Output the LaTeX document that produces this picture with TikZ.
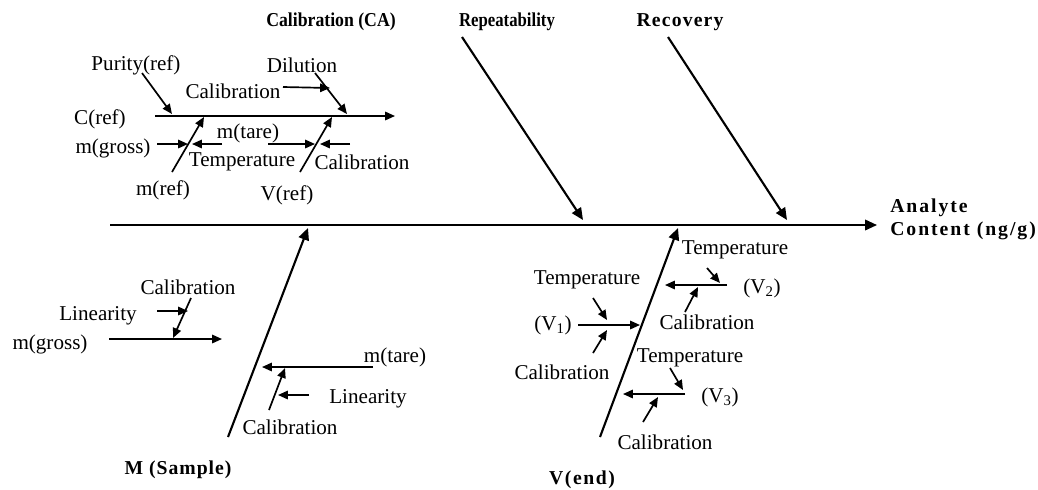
\documentclass[tikz,border=0pt]{standalone}
\usepackage{fontspec}
\usepackage{graphicx}
\setmainfont{Liberation Serif}
\usetikzlibrary{arrows.meta}
\tikzset{
  bone/.style={line width=1.5pt,-{Triangle[length=8.5pt,width=7.5pt]}},
  twig/.style={line width=1.2pt,-{Triangle[length=7pt,width=6pt]}},
  lbl/.style={font=\fontsize{15}{18}\selectfont,inner sep=0pt},
  head/.style={font=\fontsize{14}{16}\selectfont\bfseries,inner sep=0pt},
}
\begin{document}
\begin{tikzpicture}[x=0.025cm,y=-0.025cm]
	\useasboundingbox (0,0) rectangle (1038,489);
	% spine and result
	\coordinate (sp0) at (110,225);
	\coordinate (sp1) at (877,225);
	\draw[bone,line width=1.3pt] (sp0) -- (sp1);
	\node[head,align=left,anchor=west,font=\fontsize{14}{16.5}\selectfont\bfseries\addfontfeatures{LetterSpace=10}] (result) at (890,219) {Analyte\\Content (ng/g)};
	% main causes
	\node[head] (ca) at (331,22) {\scalebox{0.9}[1]{Calibration (CA)}};
	\node[head] (rep) at (507,22) {\scalebox{0.85}[1]{Repeatability}};
	\node[head,font=\fontsize{14}{16}\selectfont\bfseries\addfontfeatures{LetterSpace=6}] (rec) at (680,22) {Recovery};
	\node[head,font=\fontsize{14}{16}\selectfont\bfseries\addfontfeatures{LetterSpace=5}] (msamp) at (178,470) {M (Sample)};
	\node[head,font=\fontsize{14}{16}\selectfont\bfseries\addfontfeatures{LetterSpace=8}] (vend) at (582,480) {V(end)};
	\coordinate (rep0) at (462,37);  \coordinate (rep1) at (583,220);
	\coordinate (rec0) at (668,37);  \coordinate (rec1) at (787,220);
	\coordinate (ms0) at (228,437);  \coordinate (ms1) at (308,228);
	\coordinate (ve0) at (600,437);  \coordinate (ve1) at (678,228);
	\draw[bone] (rep0) -- (rep1);
	\draw[bone] (rec0) -- (rec1);
	\draw[bone] (ms0) -- (ms1);
	\draw[bone] (ve0) -- (ve1);

	% Calibration (CA) branch
	\node[lbl] (pur) at (136,65) {Purity(ref)};
	\node[lbl] (dil) at (302,65) {Dilution};
	\node[lbl] (calA) at (233,91) {Calibration};
	\node[lbl] (cref) at (100,119) {C(ref)};
	\node[lbl] (mgrA) at (113,148) {m(gross)};
	\node[lbl] (mtaA) at (248,133) {m(tare)};
	\node[lbl] (temA) at (242,162) {Temperature};
	\node[lbl] (calB) at (362,162) {Calibration};
	\node[lbl] (mref) at (163,190) {m(ref)};
	\node[lbl] (vref) at (287,195) {V(ref)};
	\coordinate (cr0) at (155,116);  \coordinate (cr1) at (395,116);
	\coordinate (pu0) at (142,73);   \coordinate (pu1) at (172,114);
	\coordinate (di0) at (315,73);   \coordinate (di1) at (347,114);
	\coordinate (ca0) at (283,87);   \coordinate (ca1) at (330,88);
	\coordinate (mg0) at (157,144);  \coordinate (mg1) at (188,144);
	\coordinate (mt0) at (222,144);  \coordinate (mt1) at (192,144);
	\coordinate (mr0) at (172,172);  \coordinate (mr1) at (204,117);
	\coordinate (vr0) at (300,172);  \coordinate (vr1) at (332,117);
	\coordinate (te0) at (268,144);  \coordinate (te1) at (315,144);
	\coordinate (cb0) at (350,144);  \coordinate (cb1) at (320,144);
	\draw[twig] (cr0) -- (cr1);
	\draw[twig] (pu0) -- (pu1);
	\draw[twig] (di0) -- (di1);
	\draw[twig] (ca0) -- (ca1);
	\draw[twig] (mg0) -- (mg1);
	\draw[twig] (mt0) -- (mt1);
	\draw[twig] (mr0) -- (mr1);
	\draw[twig] (vr0) -- (vr1);
	\draw[twig] (te0) -- (te1);
	\draw[twig] (cb0) -- (cb1);

	% M (Sample) branch
	\node[lbl] (mgrB) at (50,344) {m(gross)};
	\node[lbl] (linA) at (98,316) {Linearity};
	\node[lbl] (calC) at (188,287) {Calibration};
	\node[lbl] (mtaB) at (395,357) {m(tare)};
	\node[lbl] (linB) at (368,399) {Linearity};
	\node[lbl] (calD) at (290,427) {Calibration};
	\coordinate (gb0) at (109,339);  \coordinate (gb1) at (222,339);
	\coordinate (la0) at (157,311);  \coordinate (la1) at (188,311);
	\coordinate (cc0) at (191,298);  \coordinate (cc1) at (173,338);
	\coordinate (tb0) at (373,367);  \coordinate (tb1) at (262,367);
	\coordinate (cd0) at (269,410);  \coordinate (cd1) at (285,368);
	\coordinate (lb0) at (309,395);  \coordinate (lb1) at (278,395);
	\draw[twig] (gb0) -- (gb1);
	\draw[twig] (la0) -- (la1);
	\draw[twig] (cc0) -- (cc1);
	\draw[twig] (tb0) -- (tb1);
	\draw[twig] (cd0) -- (cd1);
	\draw[twig] (lb0) -- (lb1);

	% V(end) branch
	\node[lbl] (temB) at (735,250) {Temperature};
	\node[lbl] (vtwo) at (762,288) {(V\textsubscript{2})};
	\node[lbl] (calE) at (707,322) {Calibration};
	\node[lbl] (temC) at (587,280) {Temperature};
	\node[lbl] (vone) at (553,325) {(V\textsubscript{1})};
	\node[lbl] (calF) at (562,372) {Calibration};
	\node[lbl] (temD) at (690,358) {Temperature};
	\node[lbl] (vthr) at (720,397) {(V\textsubscript{3})};
	\node[lbl] (calG) at (665,442) {Calibration};
	\coordinate (tv20) at (707,268);  \coordinate (tv21) at (720,283);
	\coordinate (v20) at (727,285);   \coordinate (v21) at (665,285);
	\coordinate (cv20) at (685,312);  \coordinate (cv21) at (698,287);
	\coordinate (tv10) at (593,298);  \coordinate (tv11) at (607,320);
	\coordinate (v10) at (578,325);   \coordinate (v11) at (640,325);
	\coordinate (cv10) at (593,353);  \coordinate (cv11) at (607,330);
	\coordinate (tv30) at (670,368);  \coordinate (tv31) at (683,390);
	\coordinate (v30) at (685,394);   \coordinate (v31) at (623,394);
	\coordinate (cv30) at (643,422);  \coordinate (cv31) at (658,397);
	\draw[twig] (tv20) -- (tv21);
	\draw[twig] (v20) -- (v21);
	\draw[twig] (cv20) -- (cv21);
	\draw[twig] (tv10) -- (tv11);
	\draw[twig] (v10) -- (v11);
	\draw[twig] (cv10) -- (cv11);
	\draw[twig] (tv30) -- (tv31);
	\draw[twig] (v30) -- (v31);
	\draw[twig] (cv30) -- (cv31);
\end{tikzpicture}
\end{document}
